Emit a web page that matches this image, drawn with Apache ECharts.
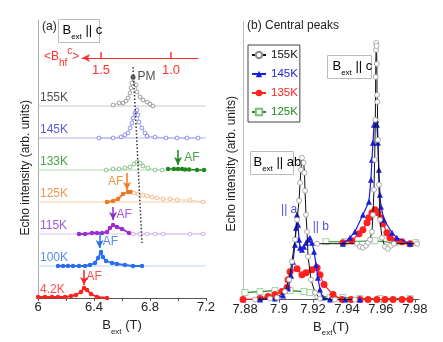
<!DOCTYPE html>
<html>
<head>
<meta charset="utf-8">
<script src="https://cdn.jsdelivr.net/npm/echarts@6/dist/echarts.min.js"></script>
<style>
  html, body { margin: 0; padding: 0; background: #fff; }
  #chart { width: 443px; height: 342px; }
</style>
</head>
<body>
<div id="chart"></div>
<script>
// --- panel (a): spectra stacked by temperature (values = height above own baseline) ---
const tempLabelsA = ['155K', '145K', '133K', '125K', '115K', '100K', '4.2K'];
const baselinesA = [192, 160, 128, 96, 64, 32, 0];
const xTicksA = [6, 6.2, 6.4, 6.6, 6.8, 7.0, 7.2];
const xLabelsA = [6, 6.4, 6.8, 7.2];

const a155Field = [6.536, 6.579, 6.607, 6.629, 6.643, 6.657, 6.664, 6.671, 6.679, 6.700, 6.707, 6.729, 6.750, 6.779, 6.800, 6.821];
const a155Int   = [1, 3, 3, 5, 8, 13, 18, 23, 28, 21, 14, 9, 6, 4, 2, 0];

const a145Field = [6.436, 6.536, 6.593, 6.621, 6.643, 6.657, 6.671, 6.679, 6.693, 6.707, 6.714, 6.721, 6.743, 6.764, 6.779, 6.836, 6.914, 6.993, 7.064, 7.143];
const a145Int   = [0, 0, 1, 3, 5, 10, 15, 20, 25, 28, 23, 16, 10, 5, 2, 1, 0, 0, 0, 0];

const a133OpenField = [6.486, 6.536, 6.579, 6.621, 6.657, 6.686, 6.707, 6.729, 6.750, 6.786, 6.836, 6.886];
const a133OpenInt   = [0, 1, 1, 2, 3, 6, 8, 7, 4, 2, 0, 0];
const a133AfField = [6.929, 6.971, 7.0, 7.029, 7.05, 7.079, 7.136, 7.186];
const a133AfInt   = [1, 1, 1, 1, 0.5, 0.5, 0, 0];

const a125AfField = [6.493, 6.536, 6.571, 6.607, 6.643, 6.664];
const a125AfInt   = [0, 1, 3, 8, 10, 10];
const a125OpenField = [6.686, 6.714, 6.750, 6.779, 6.814, 6.850, 6.893, 6.943, 6.993, 7.086, 7.179];
const a125OpenInt   = [9, 8, 7, 6, 5, 4, 3, 3, 2, 2, 0];

const a115AfField = [6.293, 6.336, 6.386, 6.421, 6.457, 6.493, 6.514, 6.536, 6.564, 6.600, 6.650];
const a115AfInt   = [0, 0, 1, 1, 1, 2, 6, 9, 7, 5, 1];
const a115OpenField = [6.679, 6.729, 6.779, 6.836, 6.893, 7.086, 7.179];
const a115OpenInt   = [0, 0, 0, 0, 0, 0, 0];

const a100Field = [6.143, 6.179, 6.214, 6.250, 6.293, 6.336, 6.371, 6.407, 6.429, 6.450, 6.464, 6.486, 6.529, 6.564, 6.621, 6.679, 6.743];
const a100Int   = [0, 0, 0, 0, 0, 0, 1, 3, 8, 14, 9, 5, 3, 2, 1, 0, 0];

const a4Field = [6.0, 6.05, 6.1, 6.143, 6.193, 6.236, 6.271, 6.307, 6.329, 6.35, 6.379, 6.421, 6.493];
const a4Int   = [1, 1, 1, 1, 1, 2, 3, 6, 10, 8, 4, 1, 0];

// PM guide line (absolute heights)
const pmField = [6.679, 6.743];
const pmHeight = [231, 55];

// AF arrows: 133K, 125K, 115K, 100K, 4.2K
const afField = [7.0, 6.636, 6.536, 6.440, 6.329];
const afTail  = [148, 125, 91, 65, 28];
const afTip   = [133, 108, 78, 50, 13];
const afLabelPos = [[7.045, 140], [6.610, 116], [6.560, 83], [6.462, 56], [6.347, 21]];

// red <B_hf^c> scale
const bhfTicks = [1.0, 1.5];

// --- panel (b): central peaks ---
const tempLabelsB = ['155K', '145K', '135K', '125K'];
const xTicksB = [7.88, 7.9, 7.92, 7.94, 7.96, 7.98];

const b155abField = [7.8859, 7.8947, 7.8988, 7.9035, 7.9059, 7.9076, 7.9094, 7.9106, 7.9118, 7.9124, 7.9129, 7.9135, 7.9145, 7.9150, 7.9153, 7.9159, 7.9165, 7.9171, 7.9188, 7.9212, 7.9241, 7.9329, 7.9447];
const b155abInt   = [0, 1, 2, 8, 20, 38, 60, 80, 99, 117, 130, 142, 137, 127, 109, 85, 68, 43, 20, 7, 1, 0, 0];
const b155cField = [7.9224, 7.9459, 7.9476, 7.9494, 7.9512, 7.9524, 7.9535, 7.9547, 7.9553, 7.9559, 7.9563, 7.9567, 7.9569, 7.9571, 7.9572, 7.9574, 7.9576, 7.9577, 7.9579, 7.9582, 7.9588, 7.9594, 7.9606, 7.9624, 7.9641, 7.9659, 7.9676, 7.9812];
const b155cInt   = [56, 56, 53, 52, 54, 57, 60, 68, 85, 110, 140, 180, 223, 250, 257, 254, 236, 205, 198, 160, 115, 80, 62, 53, 51, 54, 56, 56];

const b145abField = [7.8888, 7.8976, 7.9024, 7.9053, 7.9071, 7.9082, 7.9094, 7.9100, 7.9106, 7.9112, 7.9118, 7.9124, 7.9135, 7.9147, 7.9159, 7.9171, 7.9182, 7.9194, 7.9206, 7.9218, 7.9229, 7.9241, 7.9259, 7.9300, 7.9388, 7.9476];
const b145abInt   = [0, 1, 4, 11, 24, 38, 55, 72, 85, 75, 60, 52, 50, 53, 57, 60, 62, 57, 48, 35, 22, 10, 2, 0, 0, 0];
const b145cField = [7.9376, 7.9418, 7.9447, 7.9494, 7.9529, 7.9541, 7.9547, 7.9553, 7.9559, 7.9571, 7.9576, 7.9582, 7.9588, 7.9594, 7.9600, 7.9618, 7.9665, 7.9694, 7.9771];
const b145cInt   = [56, 62, 68, 85, 98, 120, 140, 157, 175, 180, 175, 157, 130, 105, 93, 80, 67, 62, 56];

const b135abField = [7.8788, 7.8888, 7.8935, 7.8976, 7.9018, 7.9047, 7.9053, 7.9065, 7.9106, 7.9135, 7.9159, 7.9194, 7.9224, 7.9241, 7.9265, 7.9318, 7.9371, 7.9424, 7.9476, 7.9524, 7.9576, 7.9624, 7.9671, 7.9724, 7.9771];
const b135abInt   = [0, 1, 3, 5, 8, 12, 20, 28, 31, 25, 27, 30, 32, 25, 15, 5, 0, 0, 0, 0, 0, 0, 0, 0, 0];
const b135cField = [7.9376, 7.9429, 7.9471, 7.9494, 7.9518, 7.9529, 7.9547, 7.9565, 7.9582, 7.9600, 7.9612, 7.9635, 7.9653, 7.9682, 7.9724, 7.9771];
const b135cInt   = [57, 59, 66, 70, 77, 82, 87, 90, 87, 82, 76, 67, 62, 59, 58, 56];

const b125abField = [7.8800, 7.8888, 7.8976, 7.9065, 7.9147, 7.9182, 7.9229, 7.9300, 7.9376, 7.9476, 7.9594, 7.9771];
const b125abInt   = [7, 8, 9, 9, 8, 7, 4, 2, 2, 1, 1, 1];
const b125cField = [7.9276, 7.9388, 7.9565, 7.9682, 7.9806];
const b125cInt   = [58, 58, 59, 57, 57];

const FONT = '"Liberation Sans", Arial, sans-serif';
const pairs = (xs, ys, off = 0) => xs.map((x, i) => [x, ys[i] + off]);

const chart = echarts.init(document.getElementById('chart'));

const subRich = {
    n: { fontSize: 13, lineHeight: 20, color: '#222' },
    s: { fontSize: 8, lineHeight: 9, verticalAlign: 'bottom', color: '#222' }
};

// open markers: white-filled circle with a thin coloured ring
function traceA(name, field, ints, off, color, lineColor, filled, lw) {
    return {
        name: name, type: 'line', xAxisIndex: 0, yAxisIndex: 0,
        data: pairs(field, ints, off),
        symbol: 'circle',
        symbolSize: filled ? 4.5 : 3.8,
        itemStyle: filled ? { color: color, borderWidth: 0 }
                          : { color: '#fff', borderColor: color, borderWidth: 0.7 },
        lineStyle: { color: lineColor, width: lw },
        z: 4
    };
}

function baseline(name, off, color) {
    return {
        name: name, type: 'line', xAxisIndex: 0, yAxisIndex: 0,
        data: [[6, off], [7.2, off]], symbol: 'none',
        lineStyle: { color: color, width: 1 }, z: 2
    };
}

const colorsA = ['#222', '#3030d0', '#1e8a1e', '#f07820', '#8a2ed0', '#2a6ef0', '#ff2020'];
const afColors = [colorsA[2], colorsA[3], colorsA[4], colorsA[5], colorsA[6]];

const series = [
    baseline('bl155', baselinesA[0], '#c8c8c8'),
    baseline('bl145', baselinesA[1], '#b0b0f0'),
    baseline('bl133', baselinesA[2], '#b0dcb0'),
    baseline('bl125', baselinesA[3], '#f8cca8'),
    baseline('bl115', baselinesA[4], '#dcc0f4'),
    baseline('bl100', baselinesA[5], '#bcd2f8'),
    traceA('a155', a155Field, a155Int, baselinesA[0], '#777', '#aaa', false, 0.8),
    traceA('a145', a145Field, a145Int, baselinesA[1], '#6060e4', '#a4a4f0', false, 0.8),
    traceA('a133o', a133OpenField, a133OpenInt, baselinesA[2], '#5aa85a', '#a4d2a4', false, 0.8),
    traceA('a133f', a133AfField, a133AfInt, baselinesA[2], '#1e8a1e', '#1e8a1e', true, 1.5),
    traceA('a125f', a125AfField, a125AfInt, baselinesA[3], '#f07820', '#f07820', true, 1.8),
    traceA('a125o', a125OpenField, a125OpenInt, baselinesA[3], '#f0a060', '#f8c496', false, 0.8),
    traceA('a115f', a115AfField, a115AfInt, baselinesA[4], '#9a2ed0', '#9a2ed0', true, 2),
    traceA('a115o', a115OpenField, a115OpenInt, baselinesA[4], '#c08ee8', '#dcc0f4', false, 0.8),
    traceA('a100', a100Field, a100Int, baselinesA[5], '#2a6ef0', '#2a6ef0', true, 1.8),
    traceA('a4', a4Field, a4Int, baselinesA[6], '#ff2020', '#ff2020', true, 1.8),
    {
        name: 'pm', type: 'line', xAxisIndex: 0, yAxisIndex: 0,
        data: pairs(pmField, pmHeight), symbol: 'none',
        lineStyle: { color: '#333', width: 1.5, type: [1.5, 2] }, z: 6,
        markLine: {
            silent: true, symbol: ['none', 'arrow'], symbolSize: [6, 8],
            label: { show: false },
            data: afField.map((x, i) => [
                { coord: [x, afTail[i]], lineStyle: { color: afColors[i], width: 1.5, type: 'solid' } },
                { coord: [x, afTip[i]] }
            ])
        }
    },
    {
        name: 'pmdot', type: 'scatter', xAxisIndex: 0, yAxisIndex: 0,
        data: [{ value: [6.679, a155Int[8] + baselinesA[0] + 1], name: 'PM' }],
        symbolSize: 5, itemStyle: { color: '#444' }, z: 7,
        label: { show: true, position: 'right', distance: 2, formatter: '{b}', color: '#222', fontSize: 12, fontFamily: FONT }
    },
    {
        name: 'textA', type: 'scatter', xAxisIndex: 0, yAxisIndex: 0, symbolSize: 0, silent: true,
        data: tempLabelsA.map((t, i) => ({ value: [6.014, baselinesA[i] + 8], name: t, label: { color: colorsA[i] } }))
            .concat(afLabelPos.map((p, i) => ({
                value: p, name: 'AF',
                label: { color: afColors[i], position: i === 1 ? 'left' : 'right' }
            }))),
        label: { show: true, position: 'right', distance: 0, formatter: '{b}', fontSize: 12, fontFamily: FONT }
    }
];

// panel (b) series
const bStyles = [
    { color: '#111', sym: 'circle', size: 5, item: { color: '#fff', borderColor: '#8a8a8a', borderWidth: 0.7 }, lw: 1 },
    { color: '#1c1cdc', sym: 'triangle', size: 6, item: { color: '#1c1cdc' }, lw: 1.2 },
    { color: '#ff2020', sym: 'circle', size: 7, item: { color: '#ff2020' }, lw: 1.2 },
    { color: '#1e8c1e', sym: 'rect', size: 6, item: { color: '#fff', borderColor: '#7cbc7c', borderWidth: 0.7 }, lw: 1.1 }
];
const bData = [
    [pairs(b155abField, b155abInt), pairs(b155cField, b155cInt)],
    [pairs(b145abField, b145abInt), pairs(b145cField, b145cInt)],
    [pairs(b135abField, b135abInt), pairs(b135cField, b135cInt)],
    [pairs(b125abField, b125abInt), pairs(b125cField, b125cInt)]
];
const bOrder = [3, 2, 1, 0];
bOrder.forEach(k => {
    bData[k].forEach(d => {
        series.push({
            name: tempLabelsB[k], type: 'line', xAxisIndex: 1, yAxisIndex: 1,
            data: d, symbol: bStyles[k].sym, symbolSize: bStyles[k].size,
            itemStyle: bStyles[k].item,
            lineStyle: { color: bStyles[k].color, width: bStyles[k].lw },
            z: 3 + (3 - k)
        });
    });
});
series.push({
    name: 'textB', type: 'scatter', xAxisIndex: 1, yAxisIndex: 1, symbolSize: 0, silent: true, z: 10,
    data: [
        { value: [7.9012, 90], name: '|| a' },
        { value: [7.9198, 73], name: '|| b' }
    ],
    label: { show: true, position: 'right', distance: 0, formatter: '{b}', color: '#1c1cdc', fontSize: 12, fontFamily: FONT }
});

const yTitle = (left, top) => ({
    type: 'text', left: left, top: top, rotation: Math.PI / 2, originX: 0, originY: 0,
    style: { text: 'Echo intensity (arb. units)', fontSize: 12, fill: '#222', fontFamily: FONT }
});

const option = {
    animation: false,
    textStyle: { fontFamily: FONT },
    grid: [
        { left: 38, top: 20, width: 168, height: 278 },
        { left: 243, top: 22, width: 176, height: 278 },
        { left: 82, top: 40, width: 116, height: 18 }
    ],
    xAxis: [
        {
            gridIndex: 0, type: 'value', min: 6, max: 7.2,
            splitLine: { show: false },
            axisLine: { lineStyle: { color: '#555' } },
            axisTick: { length: 3, customValues: xTicksA, lineStyle: { color: '#555' } },
            axisLabel: { customValues: xLabelsA, margin: 3, color: '#222', fontSize: 13,
                formatter: v => String(+v.toFixed(1)) },
            name: '{n|B}{s|ext}{n| (T)}', nameLocation: 'middle', nameGap: 9,
            nameTextStyle: { rich: subRich }
        },
        {
            gridIndex: 1, type: 'value', min: 7.8788, max: 7.9824,
            splitLine: { show: false },
            axisLine: { lineStyle: { color: '#555' } },
            axisTick: { length: 3, customValues: xTicksB, lineStyle: { color: '#555' } },
            axisLabel: { customValues: xTicksB, margin: 3, color: '#222', fontSize: 13,
                formatter: v => String(+v.toFixed(2)) },
            name: '{n|B}{s|ext}{n|(T)}', nameLocation: 'middle', nameGap: 9,
            nameTextStyle: { rich: subRich }
        },
        {
            gridIndex: 2, type: 'value', min: 0.8071, max: 1.6357, inverse: true, position: 'bottom',
            splitLine: { show: false },
            axisLine: { lineStyle: { color: '#ff3030', width: 1.2 }, symbol: ['arrow', 'none'], symbolSize: [6, 8] },
            axisTick: { inside: true, length: 6, customValues: bhfTicks, lineStyle: { color: '#ff3030', width: 1.5 } },
            axisLabel: { customValues: bhfTicks, margin: 6, color: '#ff3030', fontSize: 13,
                formatter: v => v.toFixed(1) }
        }
    ],
    yAxis: [
        {
            gridIndex: 0, type: 'value', min: 0, max: 278,
            splitLine: { show: false }, axisLabel: { show: false }, axisTick: { show: false },
            axisLine: { show: true, lineStyle: { color: '#aaa' } }
        },
        {
            gridIndex: 1, type: 'value', min: 0, max: 278,
            splitLine: { show: false }, axisLabel: { show: false }, axisTick: { show: false },
            axisLine: { show: true, lineStyle: { color: '#bbb' } }
        },
        {
            gridIndex: 2, type: 'value', min: 0, max: 1, show: false
        }
    ],
    legend: {
        orient: 'vertical', left: 248, top: 45,
        borderColor: '#444', borderWidth: 1, padding: [4, 2, 4, 3],
        itemGap: 7, itemWidth: 14, itemHeight: 8,
        textStyle: { fontSize: 11.5, fontFamily: FONT },
        data: tempLabelsB.map((t, k) => ({ name: t, textStyle: { color: bStyles[k].color } }))
    },
    graphic: [
        { type: 'text', left: 42, top: 21, style: { text: '(a)', fontSize: 12, fill: '#222', fontFamily: FONT } },
        {
            type: 'group', left: 58, top: 19, children: [
                { type: 'rect', shape: { x: 0, y: 0, width: 41, height: 23 }, style: { fill: '#fff', stroke: '#bbb', lineWidth: 1 } },
                { type: 'text', x: 4, y: 1, style: { text: '{n|B}{s|ext}{n| || c}', rich: subRich, fontFamily: FONT } }
            ]
        },
        {
            type: 'text', left: 44, top: 46,
            style: {
                text: '{n|<B}{s|hf}{u|c}{n|>}', fontFamily: FONT,
                rich: {
                    n: { fontSize: 12, lineHeight: 22, fill: '#ff3030' },
                    s: { fontSize: 10, lineHeight: 10, verticalAlign: 'bottom', fill: '#ff3030' },
                    u: { fontSize: 10, lineHeight: 10, verticalAlign: 'top', fill: '#ff3030' }
                }
            }
        },
        yTitle(20, 100),
        yTitle(226, 96),
        { type: 'text', left: 247, top: 20, style: { text: '(b) Central peaks', fontSize: 12, fill: '#222', fontFamily: FONT } },
        {
            type: 'group', left: 327, top: 55, children: [
                { type: 'rect', shape: { x: 0, y: 0, width: 44, height: 23 }, style: { fill: '#fff', stroke: '#bbb', lineWidth: 1 } },
                { type: 'text', x: 5, y: 1, style: { text: '{n|B}{s|ext}{n| || c}', rich: subRich, fontFamily: FONT } }
            ]
        },
        {
            type: 'group', left: 250, top: 151, children: [
                { type: 'rect', shape: { x: 0, y: 0, width: 43, height: 23 }, style: { fill: '#fff', stroke: '#bbb', lineWidth: 1 } },
                { type: 'text', x: 3, y: 1, style: { text: '{n|B}{s|ext}{n| || ab}', rich: subRich, fontFamily: FONT } }
            ]
        }
    ],
    series: series
};

chart.setOption(option);
</script>
</body>
</html>
